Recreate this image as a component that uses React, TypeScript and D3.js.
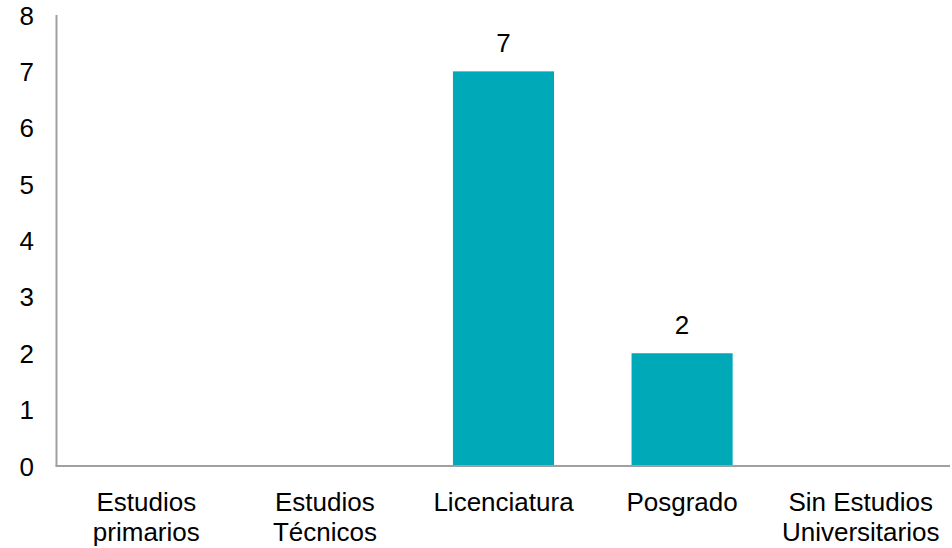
import React from "react";
import * as d3 from "d3";

const categories = [
  ["Estudios", "primarios"],
  ["Estudios", "Técnicos"],
  ["Licenciatura"],
  ["Posgrado"],
  ["Sin Estudios", "Universitarios"],
];
const values = [0, 0, 7, 2, 0];
const yTicks = [0, 1, 2, 3, 4, 5, 6, 7, 8];

export default function App() {
  const W = 952, H = 548;
  const left = 57, right = 950, top = 15, bottom = 466;
  const font = "'Liberation Sans', Arial, sans-serif";
  const fs = 26;
  const x = d3.scaleBand<number>().domain(d3.range(categories.length)).range([left, right]).paddingInner(0.434).paddingOuter(0.217);
  const y = d3.scaleLinear().domain([0, 8]).range([bottom, top]);
  return (
    <svg width={W} height={H} style={{ position: "absolute", left: 0, top: 0 }} fontFamily={font}>
      <rect width={W} height={H} fill="#fff" />
      {values.map((v, i) =>
        v > 0 ? (
          <g key={i}>
            <rect x={x(i)} y={y(v)} width={x.bandwidth()} height={bottom - y(v)} fill="#00A9B8" />
            <text x={x(i)! + x.bandwidth() / 2} y={y(v) - 19} textAnchor="middle" fontSize={fs} fill="#000">{v}</text>
          </g>
        ) : null
      )}
      <line x1={left - 0.5} x2={left - 0.5} y1={top} y2={bottom} stroke="#a0a0a0" strokeWidth={2} />
      <line x1={left - 1.5} x2={right} y1={bottom} y2={bottom} stroke="#a0a0a0" strokeWidth={2} />
      {yTicks.map((t) => (
        <text key={t} x={34} y={y(t) + 9.5} textAnchor="end" fontSize={fs} fill="#000">{t}</text>
      ))}
      {categories.map((lines, i) => (
        <text key={i} x={x(i)! + x.bandwidth() / 2} textAnchor="middle" fontSize={fs} fill="#000">
          {lines.map((l, j) => (
            <tspan key={j} x={x(i)! + x.bandwidth() / 2} y={511 + j * 30}>{l}</tspan>
          ))}
        </text>
      ))}
    </svg>
  );
}
